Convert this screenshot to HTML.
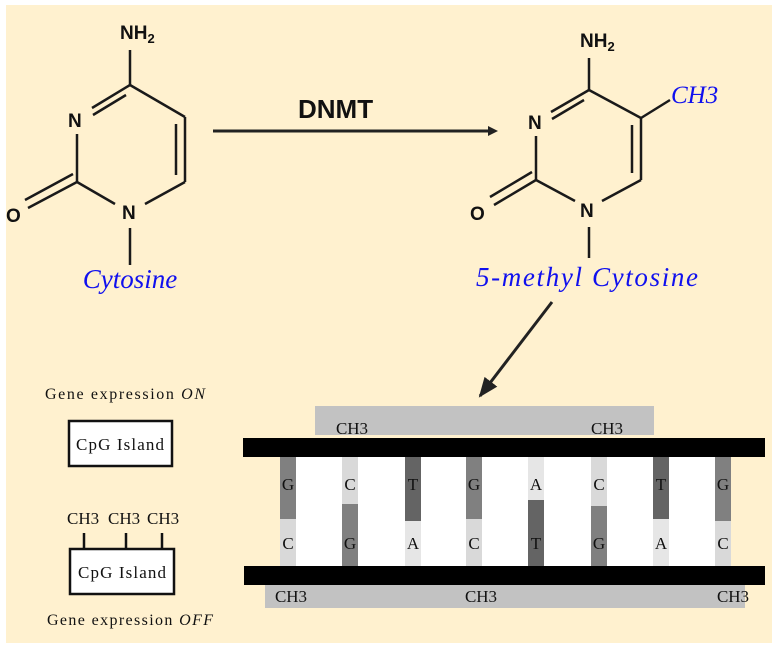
<!DOCTYPE html>
<html><head><style>
body{margin:0;width:778px;height:650px;background:#fff;overflow:hidden}
svg{display:block}
</style></head><body>
<svg width="778" height="650" viewBox="0 0 778 650" xmlns="http://www.w3.org/2000/svg">
<defs>
<marker id="ah" markerWidth="10" markerHeight="10" refX="7" refY="5" orient="auto" markerUnits="userSpaceOnUse">
<path d="M0,0 L10,5 L0,10 Z" fill="#222"/></marker>
<marker id="ah2" markerWidth="22" markerHeight="20" refX="18" refY="10" orient="auto" markerUnits="userSpaceOnUse">
<path d="M0,2 L20,10 L0,18 Z" fill="#222"/></marker>
</defs>
<rect x="6" y="5" width="766" height="638" fill="#fff1cf"/>
<g stroke="#1a1a1a" stroke-width="2.5" fill="none">
<line x1="130" y1="50" x2="130" y2="85"/>
<line x1="130" y1="85" x2="185" y2="117"/>
<line x1="185" y1="117" x2="185" y2="182"/>
<line x1="176" y1="124" x2="176" y2="175"/>
<line x1="185" y1="182" x2="145" y2="204"/>
<line x1="115" y1="204" x2="77" y2="182"/>
<line x1="77" y1="182" x2="77" y2="134"/>
<line x1="130" y1="85" x2="92" y2="108"/>
<line x1="126" y1="95" x2="93" y2="115"/>
<line x1="77" y1="182" x2="28" y2="208"/>
<line x1="73" y1="174" x2="25" y2="200"/>
<line x1="130" y1="228" x2="130" y2="265"/>
<line x1="589" y1="58" x2="589" y2="90"/>
<line x1="589" y1="90" x2="641" y2="118"/>
<line x1="641" y1="118" x2="641" y2="180"/>
<line x1="632" y1="125" x2="632" y2="173"/>
<line x1="641" y1="180" x2="602" y2="201"/>
<line x1="575" y1="201" x2="536" y2="180"/>
<line x1="536" y1="180" x2="536" y2="136"/>
<line x1="589" y1="90" x2="551" y2="112"/>
<line x1="584" y1="100" x2="552" y2="119"/>
<line x1="536" y1="180" x2="494" y2="205"/>
<line x1="532" y1="172" x2="490" y2="197"/>
<line x1="641" y1="118" x2="670" y2="100"/>
<line x1="589" y1="227" x2="589" y2="258"/>
</g>
<g font-family="Liberation Sans, sans-serif" font-weight="bold" font-size="19" fill="#111">
<text x="120" y="39">NH<tspan font-size="13" dy="4">2</tspan></text>
<text x="68" y="127">N</text>
<text x="122" y="219">N</text>
<text x="6" y="222">O</text>
<text x="580" y="47">NH<tspan font-size="13" dy="4">2</tspan></text>
<text x="528" y="129">N</text>
<text x="580" y="217">N</text>
<text x="470" y="220">O</text>
<text x="298" y="118" font-size="26">DNMT</text>
</g>
<g font-family="Liberation Serif, serif" font-style="italic" fill="#1010ee" font-size="27">
<text x="130" y="288" text-anchor="middle">Cytosine</text>
<text x="587" y="286" text-anchor="middle" textLength="222">5-methyl Cytosine</text>
<text x="671" y="103" font-size="25">CH3</text>
</g>
<line x1="213" y1="131" x2="495" y2="131" stroke="#222" stroke-width="3" marker-end="url(#ah)"/>
<line x1="552" y1="302" x2="480" y2="396" stroke="#222" stroke-width="3" marker-end="url(#ah2)"/>
<rect x="315" y="406" width="339" height="29" fill="#c2c2c2"/>
<rect x="265" y="585" width="480" height="23" fill="#c2c2c2"/>
<rect x="280" y="457" width="451" height="109" fill="#fff"/>
<g>
<rect x="280" y="457" width="16" height="62" fill="#808080"/><rect x="280" y="519" width="16" height="47" fill="#d9d9d9"/>
<rect x="342" y="457" width="16" height="47" fill="#d9d9d9"/><rect x="342" y="504" width="16" height="62" fill="#808080"/>
<rect x="405" y="457" width="16" height="64" fill="#646464"/><rect x="405" y="521" width="16" height="45" fill="#e6e6e6"/>
<rect x="466" y="457" width="16" height="62" fill="#808080"/><rect x="466" y="519" width="16" height="47" fill="#d9d9d9"/>
<rect x="528" y="457" width="16" height="43" fill="#e6e6e6"/><rect x="528" y="500" width="16" height="66" fill="#646464"/>
<rect x="591" y="457" width="16" height="49" fill="#d9d9d9"/><rect x="591" y="506" width="16" height="60" fill="#808080"/>
<rect x="653" y="457" width="16" height="62" fill="#646464"/><rect x="653" y="519" width="16" height="47" fill="#e6e6e6"/>
<rect x="715" y="457" width="16" height="64" fill="#808080"/><rect x="715" y="521" width="16" height="45" fill="#d9d9d9"/>
</g>
<rect x="243" y="438" width="522" height="19" fill="#000"/>
<rect x="244" y="566" width="521" height="19" fill="#000"/>
<g font-family="Liberation Serif, serif" font-size="17" fill="#111" text-anchor="middle">
<text x="288" y="490">G</text><text x="350" y="490">C</text><text x="413" y="490">T</text><text x="474" y="490">G</text>
<text x="536" y="490">A</text><text x="599" y="490">C</text><text x="661" y="490">T</text><text x="723" y="490">G</text>
<text x="288" y="549">C</text><text x="350" y="549">G</text><text x="413" y="549">A</text><text x="474" y="549">C</text>
<text x="536" y="549">T</text><text x="599" y="549">G</text><text x="661" y="549">A</text><text x="723" y="549">C</text>
<text x="352" y="434">CH3</text><text x="607" y="434">CH3</text>
<text x="291" y="602">CH3</text><text x="481" y="602">CH3</text><text x="733" y="602">CH3</text>
</g>
<g fill="#fff" stroke="#111" stroke-width="2.5">
<rect x="69" y="421" width="103" height="45"/>
<rect x="70" y="549" width="104" height="45"/>
</g>
<g stroke="#111" stroke-width="2.5">
<line x1="84" y1="533" x2="84" y2="549"/><line x1="126" y1="533" x2="126" y2="549"/><line x1="162" y1="533" x2="162" y2="549"/>
</g>
<g font-family="Liberation Serif, serif" font-size="17" fill="#111">
<text x="120" y="450" text-anchor="middle" textLength="88">CpG Island</text>
<text x="122" y="578" text-anchor="middle" textLength="88">CpG Island</text>
<text x="45" y="399" font-size="16" textLength="160">Gene expression <tspan font-style="italic">ON</tspan></text>
<text x="47" y="625" font-size="16" textLength="166">Gene expression <tspan font-style="italic">OFF</tspan></text>
<text x="67" y="524">CH3</text><text x="108" y="524">CH3</text><text x="147" y="524">CH3</text>
</g>
</svg>
</body></html>
